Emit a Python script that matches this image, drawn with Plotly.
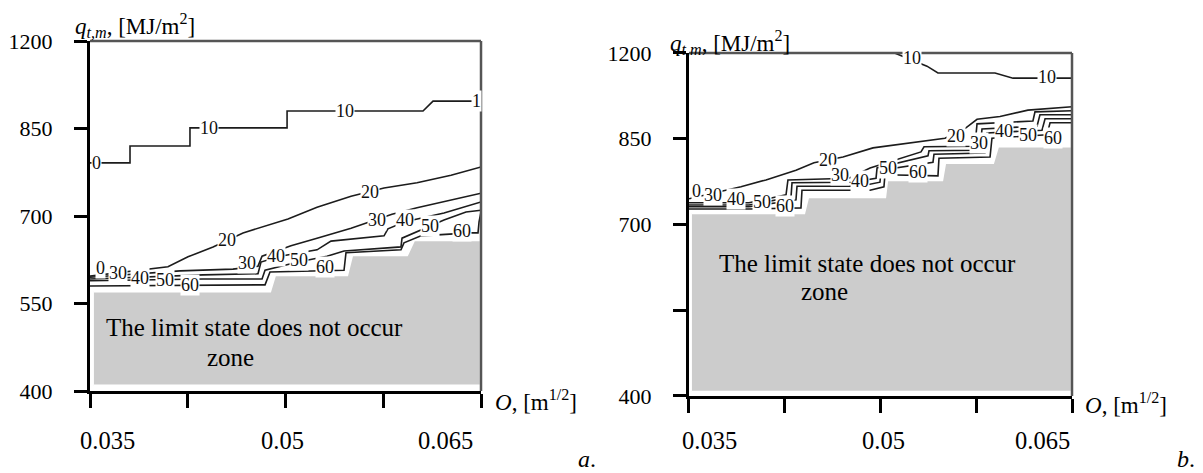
import plotly.graph_objects as go

# ---------------- axis ticks ----------------
X_TICK_VALS = [0.035, 0.0425, 0.05, 0.0575, 0.065]
X_LABEL_VALS = [0.035, 0.05, 0.065]
X_LABEL_TEXT = ["0.035", "0.05", "0.065"]
Y_TICK_VALS_A = [400, 550, 700, 850, 1000]
Y_TICK_TEXT_A = ["400", "550", "700", "850", "1200"]
Y_TICK_VALS_B = [400, 700, 850, 1000]
Y_TICK_TEXT_B = ["400", "700", "850", "1200"]
Y_MINOR_B = [550]
LEVELS = [10, 20, 30, 40, 50, 60]

# ---------------- panel a: contour lines ----------------
A10_X = [0.0350, 0.03807, 0.03807, 0.04267, 0.04267, 0.05012, 0.05012, 0.06055, 0.06132, 0.0650]
A10_Y = [791, 791, 820, 820, 851, 851, 880, 880, 897, 897]
A20_X = [0.0350, 0.03991, 0.04098, 0.04252, 0.04444, 0.04674, 0.05019, 0.05242, 0.05503, 0.05756, 0.06009, 0.06270, 0.0650]
A20_Y = [597, 611, 613, 630, 647, 671, 695, 715, 734, 748, 757, 770, 784]
A30_X = [0.0350, 0.04191, 0.04597, 0.04789, 0.04820, 0.05042, 0.05242, 0.05503, 0.05648, 0.05817, 0.06009, 0.06216, 0.0650]
A30_Y = [595, 606, 609, 614, 631, 649, 662, 679, 690, 703, 714, 724, 739]
A40_X = [0.0350, 0.04367, 0.04789, 0.04812, 0.04958, 0.05242, 0.05349, 0.05756, 0.05786, 0.05917, 0.06216, 0.06385, 0.0650]
A40_Y = [592, 599, 601, 621, 631, 642, 657, 666, 678, 690, 705, 717, 724]
A50_X = [0.0350, 0.04367, 0.04820, 0.04843, 0.05096, 0.05318, 0.05449, 0.05886, 0.05894, 0.06040, 0.06216, 0.06385, 0.0650]
A50_Y = [589, 592, 592, 607, 621, 631, 640, 647, 662, 676, 693, 707, 710]
A60_X = [0.0350, 0.04843, 0.04881, 0.05449, 0.05464, 0.05886, 0.05909, 0.06040, 0.06416, 0.06477, 0.06485, 0.0650]
A60_Y = [580, 582, 604, 607, 637, 642, 654, 666, 671, 671, 690, 707]

# zone where the limit state does not occur (panel a)
GRAY_A_X = [0.0353, 0.04881, 0.04919, 0.05472, 0.05510, 0.05932, 0.05986, 0.0650]
GRAY_A_Y = [571, 571, 599, 599, 633, 633, 659, 659]
GRAY_A_BASE = 409

# contour labels (panel a)
A_LBL_X = [0.0355, 0.04413, 0.05457, 0.06469, 0.03577, 0.04551, 0.05648, 0.03715, 0.04705, 0.05702,
           0.03884, 0.04927, 0.05917, 0.04075, 0.05104, 0.06109, 0.04267, 0.05303, 0.06354]
A_LBL_Y = [791, 851, 880, 897, 611, 659, 741, 602, 619, 693, 594, 631, 693, 590, 625, 683, 582, 613, 674]
A_LBL_T = ["0", "10", "10", "1", "0", "20", "20", "30", "30", "30", "40", "40", "40", "50", "50", "50", "60", "60", "60"]

# ---------------- panel b: contour lines ----------------
B10_X = [0.0500, 0.05364, 0.05450, 0.05897, 0.06038, 0.0650]
B10_Y = [1010, 977, 965, 965, 956, 956]
B20_X = [0.0350, 0.03907, 0.04103, 0.04338, 0.04479, 0.04706, 0.04941, 0.05255, 0.05505, 0.05669, 0.05756, 0.05936, 0.06155, 0.0650]
B20_Y = [745, 766, 778, 795, 808, 818, 834, 844, 851, 869, 884, 889, 900, 906]
B30_X = [0.0350, 0.03970, 0.04260, 0.04275, 0.04753, 0.04918, 0.05317, 0.05341, 0.05740, 0.05756, 0.06194, 0.06210, 0.0650]
B30_Y = [738, 738, 752, 778, 781, 799, 827, 836, 837, 876, 881, 897, 899]
B40_X = [0.0350, 0.03970, 0.04299, 0.04307, 0.04769, 0.04965, 0.04973, 0.05372, 0.05380, 0.05779, 0.05795, 0.06226, 0.06249, 0.0650]
B40_Y = [734, 734, 748, 773, 774, 781, 799, 820, 829, 830, 867, 872, 892, 892]
B50_X = [0.0350, 0.03970, 0.04338, 0.04346, 0.04839, 0.04996, 0.05004, 0.05411, 0.05419, 0.05818, 0.05834, 0.06265, 0.06289, 0.0650]
B50_Y = [731, 731, 743, 767, 767, 774, 795, 809, 823, 825, 860, 865, 885, 885]
B60_X = [0.0350, 0.03970, 0.04377, 0.04385, 0.04918, 0.05027, 0.05035, 0.05450, 0.05458, 0.05858, 0.05873, 0.06304, 0.06328, 0.0650]
B60_Y = [727, 727, 729, 760, 760, 766, 787, 785, 816, 818, 851, 857, 878, 878]

GRAY_B_X = [0.03523, 0.04401, 0.04432, 0.05035, 0.05051, 0.05482, 0.05505, 0.05881, 0.05920, 0.0650]
GRAY_B_Y = [720, 720, 748, 748, 778, 778, 808, 808, 837, 837]
GRAY_B_BASE = 407

B_LBL_X = [0.05247, 0.06304, 0.0356, 0.04589, 0.05591, 0.03688, 0.04683, 0.05772, 0.03868, 0.04839,
           0.05967, 0.04072, 0.05059, 0.06155, 0.04252, 0.05294, 0.06351]
B_LBL_Y = [991, 958, 759, 813, 855, 752, 787, 843, 745, 776, 864, 739, 799, 857, 732, 792, 851]
B_LBL_T = ["10", "10", "0", "20", "20", "30", "30", "30", "40", "40", "40", "50", "50", "50", "60", "60", "60"]

ZONE_LINE1 = "The limit state does not occur"
ZONE_LINE2 = "zone"
Y_TITLE = "<i>q</i><sub><i>t,m</i></sub>, [MJ/m<sup>2</sup>]"
X_TITLE = "<i>O</i>, [m<sup>1/2</sup>]"

SERIF = "Liberation Serif"
LINE_COLOR = "#1c1c1c"
GRAY = "#cccccc"

fig = go.Figure()

panels = [
    ("x", "y", GRAY_A_X, GRAY_A_Y, GRAY_A_BASE,
     [(A10_X, A10_Y), (A20_X, A20_Y), (A30_X, A30_Y), (A40_X, A40_Y), (A50_X, A50_Y), (A60_X, A60_Y)]),
    ("x2", "y2", GRAY_B_X, GRAY_B_Y, GRAY_B_BASE,
     [(B10_X, B10_Y), (B20_X, B20_Y), (B30_X, B30_Y), (B40_X, B40_Y), (B50_X, B50_Y), (B60_X, B60_Y)]),
]

for xa, ya, gx, gy, gbase, lines in panels:
    fig.add_trace(go.Scatter(
        x=gx + [gx[-1], gx[0]], y=gy + [gbase, gbase],
        mode="lines", fill="toself", fillcolor=GRAY,
        line=dict(color="white", width=2.5),
        xaxis=xa, yaxis=ya, hoverinfo="skip", showlegend=False))
    for lvl, (lx, ly) in zip(LEVELS, lines):
        fig.add_trace(go.Scatter(
            x=lx, y=ly, mode="lines", name=str(lvl),
            line=dict(color=LINE_COLOR, width=1.6),
            xaxis=xa, yaxis=ya, hoverinfo="skip", showlegend=False))

annotations = []
for xa, ya, lx, ly, lt in [("x", "y", A_LBL_X, A_LBL_Y, A_LBL_T), ("x2", "y2", B_LBL_X, B_LBL_Y, B_LBL_T)]:
    for x, y, t in zip(lx, ly, lt):
        annotations.append(dict(
            x=x, y=y, xref=xa, yref=ya, text=t, showarrow=False,
            bgcolor="white", borderpad=0,
            font=dict(family=SERIF, size=18, color="#111")))

# x tick labels
anchors = ["left", "center", "right"]
for xa, ya, yshift, xshifts in [("x", "y", -49, [-12, -3, -6]), ("x2", "y2", -44, [-9, 3, 0])]:
    for v, t, anc, xs in zip(X_LABEL_VALS, X_LABEL_TEXT, anchors, xshifts):
        annotations.append(dict(
            x=v, y=0, xref=xa, yref=ya + " domain", text=t, showarrow=False,
            xanchor=anc, yanchor="middle", xshift=xs, yshift=yshift,
            font=dict(family=SERIF, size=24.5, color="black")))


def paper_text(text, x, y, size, xanchor="left"):
    annotations.append(dict(x=x, y=y, xref="paper", yref="paper", text=text, showarrow=False,
                            xanchor=xanchor, yanchor="middle",
                            font=dict(family=SERIF, size=size, color="black")))


paper_text(Y_TITLE, 0.05439, 0.96344, 23)
paper_text(Y_TITLE, 0.55230, 0.92688, 23)
paper_text(X_TITLE, 0.40586, 0.15484, 23)
paper_text(X_TITLE, 0.89958, 0.14839, 23)
paper_text("<i>a</i>.", 0.49372, 0.0301, 24, "right")
paper_text("<i>b</i>.", 0.99498, 0.0301, 24, "right")
paper_text(ZONE_LINE1, 0.20669, 0.31183, 25, "center")
paper_text(ZONE_LINE2, 0.18661, 0.24946, 25, "center")
paper_text(ZONE_LINE1, 0.71925, 0.45161, 25, "center")
paper_text(ZONE_LINE2, 0.68368, 0.38925, 25, "center")

shapes = []
for xa, ya in [("x", "y"), ("x2", "y2")]:
    shapes.append(dict(type="line", xref=xa + " domain", yref=ya + " domain", x0=0, x1=1, y0=1, y1=1,
                       line=dict(color="#555555", width=2.5)))
    shapes.append(dict(type="line", xref=xa + " domain", yref=ya + " domain", x0=1, x1=1, y0=0, y1=1,
                       line=dict(color="#555555", width=2.5)))

xaxis_common = dict(range=[0.035, 0.065], showline=True, linewidth=3, linecolor="black",
                    ticks="outside", ticklen=14, tickwidth=3, tickcolor="black",
                    tickvals=X_TICK_VALS, showticklabels=False, showgrid=False, zeroline=False,
                    layer="above traces", fixedrange=True, automargin=False)
yaxis_common = dict(range=[400, 1000], showline=True, linewidth=3, linecolor="black",
                    ticks="outside", ticklen=13, tickwidth=3, tickcolor="black",
                    showgrid=False, zeroline=False,
                    tickfont=dict(family=SERIF, size=22, color="black"),
                    ticklabelstandoff=17, layer="above traces", fixedrange=True, automargin=False)

# the page places the figure with an 8px body margin, so the figure is 8px smaller
fig.update_layout(
    template="none",
    width=1195, height=465,
    margin=dict(l=0, r=0, t=0, b=0, pad=0),
    paper_bgcolor="white", plot_bgcolor="white",
    showlegend=False, hovermode=False,
    font=dict(family=SERIF, color="black"),
    xaxis=dict(domain=[0.06862, 0.39582], anchor="y", **xaxis_common),
    yaxis=dict(domain=[0.17634, 0.92903], anchor="x", tickvals=Y_TICK_VALS_A, ticktext=Y_TICK_TEXT_A,
               **yaxis_common),
    xaxis2=dict(domain=[0.56987, 0.89038], anchor="y2", **xaxis_common),
    yaxis2=dict(domain=[0.16559, 0.90323], anchor="x2", tickvals=Y_TICK_VALS_B, ticktext=Y_TICK_TEXT_B,
                minor=dict(tickvals=Y_MINOR_B, ticks="outside", ticklen=13, tickwidth=3, tickcolor="black",
                           showgrid=False),
                **yaxis_common),
    annotations=annotations,
    shapes=shapes,
)

fig.write_html("out.html")
